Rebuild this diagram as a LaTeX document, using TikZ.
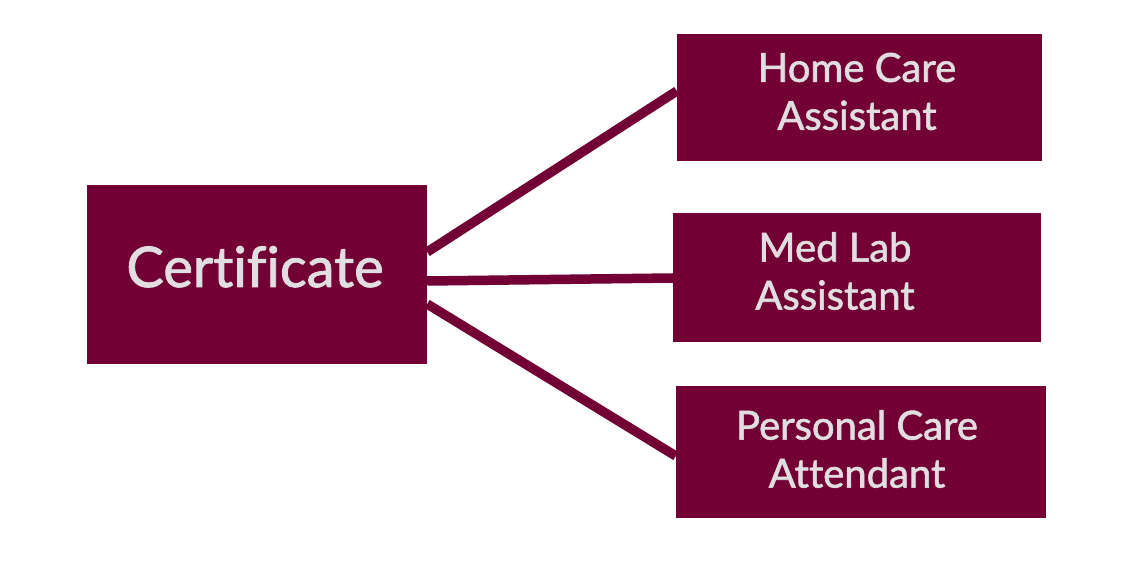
\documentclass[tikz,border=0pt]{standalone}
\usepackage{fontspec}
\setmainfont{Lato}[Ligatures=NoCommon]
\newfontfamily\lblfont{Lato}[FakeBold=1.5, Ligatures=NoCommon]
\definecolor{maroon}{HTML}{730034}
\definecolor{txt}{HTML}{E0DEE0}
\tikzset{
  box/.style={fill=maroon, draw=none, inner sep=0pt, rectangle},
  lbl/.style={text=txt, align=center, inner sep=0pt, font=\lblfont\fontsize{40}{48}\selectfont},
  biglbl/.style={text=txt, inner sep=0pt, font=\lblfont\fontsize{56}{60}\selectfont},
  link/.style={draw=maroon, line width=9.5pt, line cap=butt}
}
\begin{document}
\begin{tikzpicture}[x=1pt,y=-1pt]
\useasboundingbox (0,0) rectangle (1130,569);
% boxes
\node[box, minimum width=340pt, minimum height=179pt] (cert) at (257,274.5) {};
\node[box, minimum width=365pt, minimum height=127pt] (home) at (859.5,97.5) {};
\node[box, minimum width=368pt, minimum height=129pt] (medlab) at (857,277.5) {};
\node[box, minimum width=370pt, minimum height=132pt] (personal) at (861,452) {};
% connectors
\draw[link] ([yshift=22.5pt]cert.east) -- ([yshift=6.5pt]home.west);
\draw[link] ([yshift=-6.5pt]cert.east) -- ([yshift=-0.5pt]medlab.west);
\draw[link] ([yshift=-29.5pt]cert.east) -- ([yshift=-4pt]personal.west);
% labels
\node[biglbl, anchor=base] (certtxt) at ([xshift=-2pt,yshift=-12.5pt]cert.center) {Certificate};
\node[lbl] (hometxt) at ([xshift=-2.5pt,yshift=6pt]home.center) {Home Care\\Assistant};
\node[lbl] (medlabtxt) at ([xshift=-22pt,yshift=6.5pt]medlab.center) {Med Lab\\Assistant};
\node[lbl] (personaltxt) at ([xshift=-4pt,yshift=3pt]personal.center) {Personal Care\\Attendant};
\end{tikzpicture}
\end{document}
